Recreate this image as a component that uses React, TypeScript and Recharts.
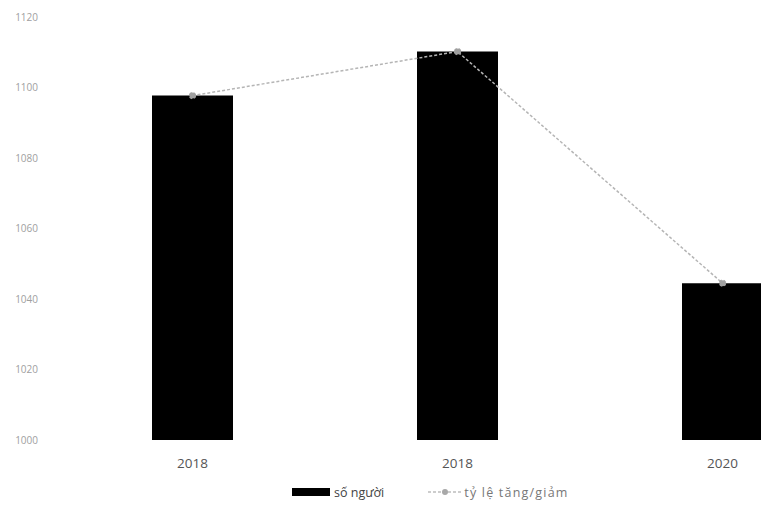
import { ComposedChart, Bar, Line, XAxis, YAxis, Legend } from "recharts";

const years = ["2018", "2018", "2020"];
const soNguoi = [1097.7, 1110.2, 1044.5];
const tyLe = [1097.7, 1110.2, 1044.5];
const yTicks = [1000, 1020, 1040, 1060, 1080, 1100, 1120];

const data = years.map((year, i) => ({ year, soNguoi: soNguoi[i], tyLe: tyLe[i] }));

const FONT = "'Open Sans', 'Liberation Sans', sans-serif";

function LegendContent() {
  return (
    <div style={{ display: "flex", alignItems: "center", fontFamily: FONT, fontSize: 12.5, color: "#444", height: 18 }}>
      <span style={{ display: "inline-block", width: 38, height: 8, background: "#000", marginRight: 4 }} />
      <span style={{ marginRight: 44 }}>số người</span>
      <svg width={33} height={10} style={{ marginRight: 3 }}>
        <line x1={0} y1={5} x2={33} y2={5} stroke="#bdbdbd" strokeWidth={1.5} strokeDasharray="3 2" />
        <circle cx={17} cy={5} r={3} fill="#a8a8a8" />
      </svg>
      <span style={{ color: "#777", letterSpacing: 1.2 }}>tỷ lệ tăng/giảm</span>
    </div>
  );
}

export default function App() {
  return (
    <div style={{ position: "absolute", left: 0, top: 0, width: 761, height: 508, overflow: "hidden", background: "#fff" }}>
      <ComposedChart width={860} height={508} data={data} margin={{ top: 17, right: 5, left: 0, bottom: 0 }}>
        <XAxis
          dataKey="year"
          axisLine={false}
          tickLine={false}
          height={50}
          tickMargin={12}
          tick={{ fontSize: 13.5, fill: "#555", fontFamily: FONT }}
        />
        <YAxis
          domain={[1000, 1120]}
          ticks={yTicks}
          axisLine={false}
          tickLine={false}
          width={60}
          tickMargin={16}
          tick={{ fontSize: 10, fill: "#a0a0a0", fontFamily: FONT }}
        />
        <Legend
          verticalAlign="bottom"
          content={<LegendContent />}
          wrapperStyle={{ left: 292, width: 320, bottom: 7 }}
        />
        <Bar dataKey="soNguoi" fill="#000" barSize={81} isAnimationActive={false} />
        <Line
          dataKey="tyLe"
          stroke="#b5b5b5"
          strokeWidth={1.5}
          strokeDasharray="3 2"
          dot={{ r: 3, fill: "#a0a0a0", stroke: "#a0a0a0" }}
          type="linear"
          isAnimationActive={false}
        />
      </ComposedChart>
    </div>
  );
}
